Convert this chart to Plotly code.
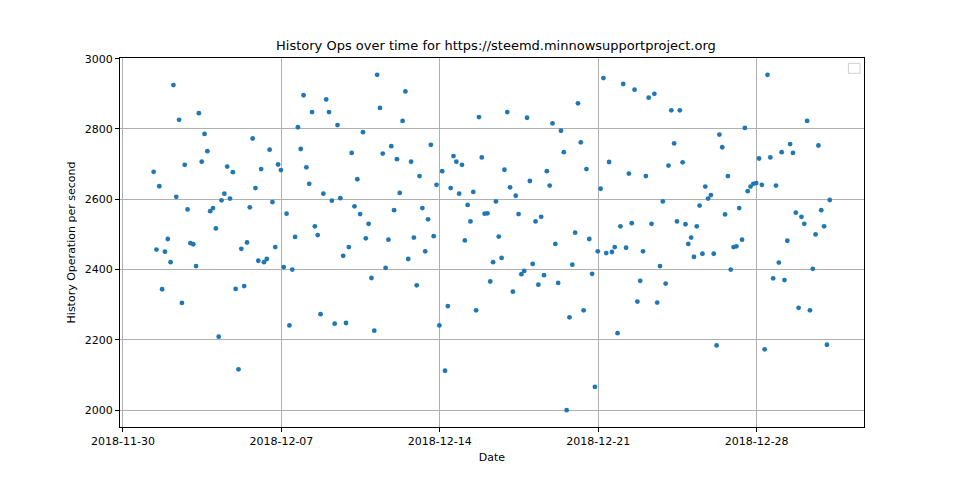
import pandas as pd
import plotly.graph_objects as go

# Timestamps: 240 samples, every 3 hours
start_time = "2018-12-01 08:30"
n_points = 240
dates = pd.date_range(start=start_time, periods=n_points, freq="3h")

history_ops = [
    2678, 2457, 2637, 2344, 2451, 2487, 2421, 2925, 2607, 2826,
    2305, 2698, 2571, 2475, 2472, 2410, 2845, 2707, 2786, 2737,
    2566, 2575, 2517, 2209, 2597, 2616, 2693, 2602, 2677, 2345,
    2116, 2459, 2353, 2477, 2577, 2773, 2632, 2425,
    2686, 2421, 2430, 2741, 2592, 2464, 2699, 2683, 2407, 2559,
    2241, 2400, 2493, 2805, 2743, 2896, 2691, 2644, 2848, 2523,
    2498, 2273, 2616, 2884, 2848, 2596, 2246, 2811, 2603, 2439,
    2248, 2464, 2732, 2580, 2657, 2558, 2791, 2489, 2530, 2376,
    2226,
    2954, 2860, 2730, 2405, 2485, 2751, 2569, 2714, 2618, 2823,
    2907, 2430, 2707, 2491, 2355, 2666, 2575, 2452, 2543, 2755,
    2495, 2641, 2241, 2680, 2112, 2296, 2632, 2723, 2707, 2616,
    2698, 2483, 2584, 2537, 2621, 2284, 2834, 2719, 2559, 2560,
    2366,
    2421, 2594, 2494, 2433, 2684, 2848, 2634, 2337, 2610, 2558,
    2387, 2396, 2832, 2652, 2416, 2537, 2357, 2550, 2384, 2680,
    2639, 2816, 2473, 2362, 2795, 2734, 2000, 2264, 2414, 2505,
    2873, 2762, 2284, 2686, 2487, 2388, 2066, 2452, 2630, 2945,
    2447, 2706, 2450, 2464, 2219, 2523, 2928, 2462, 2673, 2532,
    2912, 2309, 2368, 2452, 2666, 2889, 2530, 2900, 2306, 2410,
    2594, 2360, 2696, 2853, 2759, 2537, 2853, 2705, 2529, 2473,
    2491, 2436, 2523, 2582, 2445, 2636, 2602, 2612, 2445, 2184,
    2784,
    2748, 2557, 2666, 2400, 2464, 2466, 2575, 2485, 2803, 2623,
    2636, 2644, 2646, 2716, 2641, 2173, 2954, 2719, 2375, 2639,
    2420, 2734, 2370, 2482, 2757, 2732, 2562, 2291, 2550, 2530,
    2823, 2284, 2402, 2500, 2753, 2569, 2523, 2186, 2598,
]

x_tick_vals = ["2018-11-30", "2018-12-07", "2018-12-14", "2018-12-21", "2018-12-28"]
y_tick_vals = [2000, 2200, 2400, 2600, 2800, 3000]

title_text = "History Ops over time for https://steemd.minnowsupportproject.org"

fig = go.Figure()
fig.add_trace(go.Scatter(
    x=dates, y=history_ops, mode="markers",
    marker=dict(color="#1f77b4", size=4.8, line=dict(width=0)),
    showlegend=False,
))

font_family = "DejaVu Sans"

# page body has an 8px margin; compensate so the plot lands where the original sits
fig.update_layout(
    width=952, height=472,
    margin=dict(l=112, r=96, t=50, b=53),
    paper_bgcolor="white", plot_bgcolor="white",
    font=dict(family=font_family, size=11, color="black"),
    title=dict(text=title_text, x=0.5125, xanchor="center", y=0.92, yanchor="middle",
               font=dict(size=13, family=font_family, color="black")),
    showlegend=False,
)

fig.update_xaxes(
    range=["2018-11-29 20:50", "2019-01-01 17:50"],
    tickvals=x_tick_vals, ticktext=x_tick_vals,
    showgrid=True, gridcolor="#b0b0b0", gridwidth=1,
    showline=True, linecolor="black", linewidth=1, mirror=True,
    ticks="outside", ticklen=4, tickcolor="black",
    zeroline=False,
    title=dict(text="Date", standoff=6, font=dict(size=11)),
)
fig.update_yaxes(
    range=[1952, 3002],
    tickvals=y_tick_vals,
    showgrid=True, gridcolor="#b0b0b0", gridwidth=1,
    showline=True, linecolor="black", linewidth=1, mirror=True,
    ticks="outside", ticklen=4, tickcolor="black",
    zeroline=False,
    title=dict(text="History Operation per second", standoff=6, font=dict(size=11)),
)

# empty legend box (as in the original)
fig.add_shape(type="rect", xref="paper", yref="paper",
              x0=0.979, x1=0.9946, y0=0.9585, y1=0.9856,
              line=dict(color="#d0d0d0", width=1), fillcolor="white")

fig.write_html("out.html")
